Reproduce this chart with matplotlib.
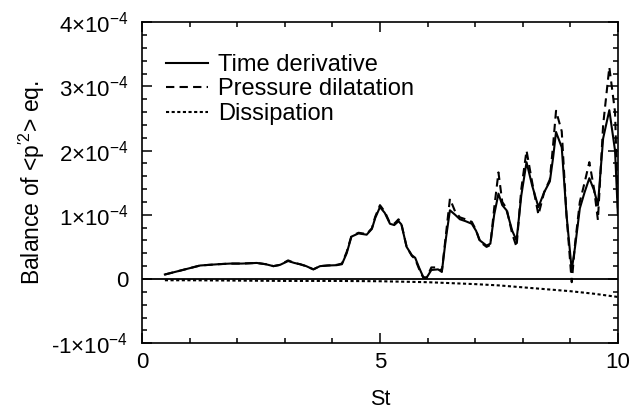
import matplotlib
matplotlib.use("Agg")
import matplotlib.pyplot as plt
from matplotlib.ticker import MultipleLocator, FixedLocator

plt.rcParams['font.family'] = ['Liberation Sans', 'DejaVu Sans']
plt.rcParams['mathtext.fontset'] = 'custom'
plt.rcParams['mathtext.rm'] = 'Liberation Sans'
plt.rcParams['mathtext.it'] = 'Liberation Sans:italic'

# ---- data (values in units of 1e-4) ----
st = [0.48, 0.8, 1.22, 1.6, 1.85, 2.1, 2.41, 2.6, 2.76, 2.9, 3.07, 3.2, 3.32, 3.45,
      3.6, 3.74, 3.9, 4.09, 4.2, 4.3, 4.4, 4.55, 4.72, 4.83, 4.9, 5.0, 5.1, 5.21,
      5.3, 5.39, 5.45, 5.56, 5.67, 5.74, 5.82, 5.91, 5.98, 6.08, 6.22, 6.3, 6.38,
      6.47, 6.58, 6.68, 6.8, 6.93, 7.02, 7.1, 7.24, 7.32, 7.4, 7.49, 7.57, 7.66,
      7.78, 7.87, 7.97, 8.08, 8.2, 8.33, 8.45, 8.57, 8.64, 8.7, 8.82, 8.92, 9.03,
      9.1, 9.2, 9.3, 9.4, 9.5, 9.58, 9.69, 9.82, 9.94, 10.0]

time_derivative = [0.07, 0.13, 0.21, 0.23, 0.24, 0.24, 0.25, 0.23, 0.2, 0.22, 0.28,
                   0.25, 0.23, 0.2, 0.15, 0.2, 0.21, 0.215, 0.23, 0.4, 0.66, 0.71,
                   0.69, 0.78, 0.95, 1.12, 1.03, 0.86, 0.84, 0.9, 0.85, 0.5, 0.37,
                   0.33, 0.18, 0.03, 0.02, 0.14, 0.15, 0.11, 0.6, 1.07, 1.0, 0.93,
                   0.9, 0.86, 0.75, 0.6, 0.52, 0.55, 1.0, 1.33, 1.15, 1.07, 0.75,
                   0.6, 1.3, 1.82, 1.45, 1.12, 1.35, 1.52, 1.9, 2.29, 2.05, 1.0,
                   0.14, 0.5, 1.1, 1.35, 1.57, 1.38, 1.15, 2.19, 2.63, 2.0, 1.0]

pressure_dilatation = [0.07, 0.13, 0.21, 0.23, 0.24, 0.24, 0.25, 0.23, 0.2, 0.22, 0.29,
                       0.25, 0.23, 0.2, 0.15, 0.2, 0.21, 0.22, 0.24, 0.42, 0.67, 0.72,
                       0.7, 0.79, 0.97, 1.15, 1.05, 0.87, 0.86, 0.93, 0.86, 0.5, 0.36,
                       0.31, 0.16, 0.02, 0.02, 0.18, 0.18, 0.12, 0.65, 1.25, 1.05, 0.96,
                       0.93, 0.89, 0.76, 0.58, 0.5, 0.53, 1.1, 1.66, 1.2, 1.1, 0.7,
                       0.5, 1.4, 2.0, 1.5, 1.0, 1.35, 1.55, 2.1, 2.62, 2.3, 1.0,
                       -0.05, 0.55, 1.2, 1.5, 1.82, 1.4, 0.92, 2.4, 3.3, 2.6, 1.1]

st_diss = [0.48, 1.0, 2.0, 3.0, 4.0, 5.0, 6.0, 7.0, 7.5, 8.0, 8.5, 9.0, 9.5, 10.0]
dissipation = [-0.02, -0.02, -0.025, -0.03, -0.03, -0.035, -0.05, -0.08, -0.1,
               -0.13, -0.16, -0.19, -0.23, -0.28]

y_ticks = [-1, 0, 1, 2, 3, 4]
y_tick_labels = ['-1×10$^{\\mathregular{-4}}$', '0', '1×10$^{\\mathregular{-4}}$',
                 '2×10$^{\\mathregular{-4}}$', '3×10$^{\\mathregular{-4}}$',
                 '4×10$^{\\mathregular{-4}}$']
x_ticks = [0, 5, 10]

fig = plt.figure(figsize=(6.37, 4.11), dpi=100)
ax = fig.add_axes([0.223, 0.165, 0.747, 0.781])

ax.axhline(0, color='black', lw=1.3)
ax.plot(st, time_derivative, color='black', lw=1.5, ls='-', label='Time derivative')
ax.plot(st, pressure_dilatation, color='black', lw=1.5, ls=(0, (4, 2.5)),
        label='Pressure dilatation')
ax.plot(st_diss, dissipation, color='black', lw=1.5, ls=(0, (1.5, 1.2)),
        label='Dissipation')

ax.set_xlim(0, 10)
ax.set_ylim(-1, 4)
ax.xaxis.set_major_locator(FixedLocator(x_ticks))
ax.xaxis.set_minor_locator(MultipleLocator(1))
ax.yaxis.set_major_locator(FixedLocator(y_ticks))
ax.yaxis.set_minor_locator(MultipleLocator(0.2))
ax.set_yticklabels(y_tick_labels)
ax.set_xticklabels([str(v) for v in x_ticks])
ax.tick_params(which='both', direction='in', top=True, right=True, width=1.1)
ax.tick_params(which='major', length=7, labelsize=16)
ax.tick_params(axis='y', which='major', pad=10)
ax.tick_params(axis='x', which='major', pad=6)
ax.tick_params(which='minor', length=3.5)
for s in ax.spines.values():
    s.set_linewidth(1.2)

ax.set_xlabel('St', fontsize=15.5, labelpad=12)
ax.set_ylabel("Balance of <p$^{\\mathregular{\\prime 2}}$> eq.", fontsize=16.5, labelpad=3)

leg = ax.legend(loc='upper left', bbox_to_anchor=(0.03, 0.93), frameon=False,
                fontsize=17, handlelength=1.8, handletextpad=0.4, labelspacing=0.1,
                borderaxespad=0)

fig.savefig('out.png', dpi=100)
